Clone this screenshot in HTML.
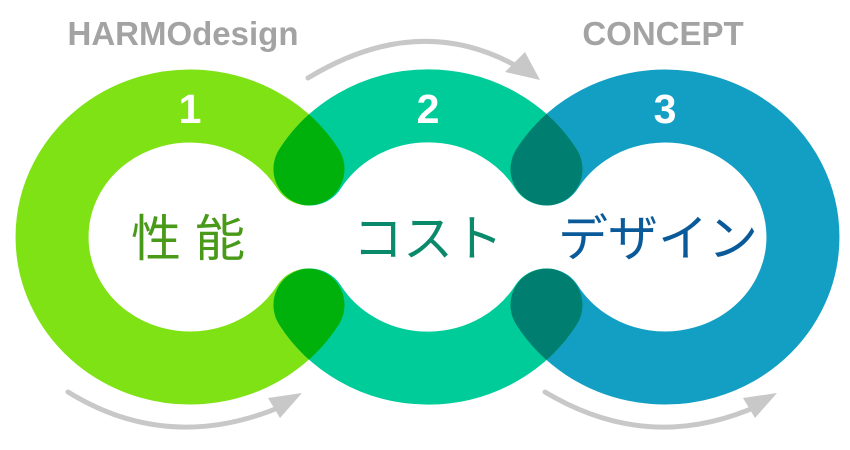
<!DOCTYPE html>
<html><head><meta charset="utf-8"><style>
html,body{margin:0;padding:0;background:#fff;width:850px;height:450px;overflow:hidden}
svg{display:block}
</style></head><body>
<svg width="850" height="450" viewBox="0 0 850 450" xmlns="http://www.w3.org/2000/svg">
<defs>
<mask id="m1" maskUnits="userSpaceOnUse" x="0" y="0" width="850" height="450">
<rect width="850" height="450" fill="#000"/>
<path d="M 308 169 A 138 131 0 1 0 308 305" fill="none" stroke="#fff" stroke-width="73" stroke-linecap="round"/>
</mask>
<mask id="m3" maskUnits="userSpaceOnUse" x="0" y="0" width="850" height="450">
<rect width="850" height="450" fill="#000"/>
<path d="M 547 169 A 138 131 0 1 1 547 305" fill="none" stroke="#fff" stroke-width="73" stroke-linecap="round"/>
</mask>
</defs>
<g fill="none" stroke-width="73" stroke-linecap="round">
<path d="M 308 169 A 138 131 0 1 0 308 305" stroke="#7ee214"/>
<path d="M 547 169 A 138 131 0 1 1 547 305" stroke="#139fc4"/>
<path d="M 310 169 A 138 131 0 0 1 546 169 M 310 305 A 138 131 0 0 0 546 305" stroke="#00cc99"/>
<path d="M 310 169 A 138 131 0 0 1 546 169 M 310 305 A 138 131 0 0 0 546 305" stroke="#00b00b" mask="url(#m1)"/>
<path d="M 310 169 A 138 131 0 0 1 546 169 M 310 305 A 138 131 0 0 0 546 305" stroke="#007f70" mask="url(#m3)"/>
</g>
<g fill="none" stroke="#c8c8c8" stroke-width="5" stroke-linecap="round">
<path d="M 308 78 Q 420 10 520 68"/>
<path d="M 68 392 Q 170 455 285 405"/>
<path d="M 545 392 Q 650 455 760 405"/>
</g>
<g fill="#c8c8c8">
<polygon points="540,80 505,72 525,52"/>
<polygon points="302,393 280,418 268,398"/>
<polygon points="777,393 755,418 743,398"/>
</g>
<g font-family="Liberation Sans, sans-serif" font-weight="bold" text-anchor="middle">
<text x="183" y="45" font-size="33" fill="#a3a3a3">HARMOdesign</text>
<text x="663" y="45" font-size="33" fill="#a3a3a3">CONCEPT</text>
<text x="190" y="123" font-size="41" fill="#fff">1</text>
<text x="428" y="123" font-size="41" fill="#fff">2</text>
<text x="665" y="123" font-size="41" fill="#fff">3</text>
</g>
<g font-family="Liberation Sans, 'Noto Sans CJK JP', sans-serif" font-size="50" text-anchor="middle">
<text x="188" y="256" fill="#4a9a1a">性 能</text>
<text x="428" y="256" fill="#0a8a6a">コスト</text>
<text x="658" y="256" fill="#0a5a9a">デザイン</text>
</g>
</svg>
</body></html>
